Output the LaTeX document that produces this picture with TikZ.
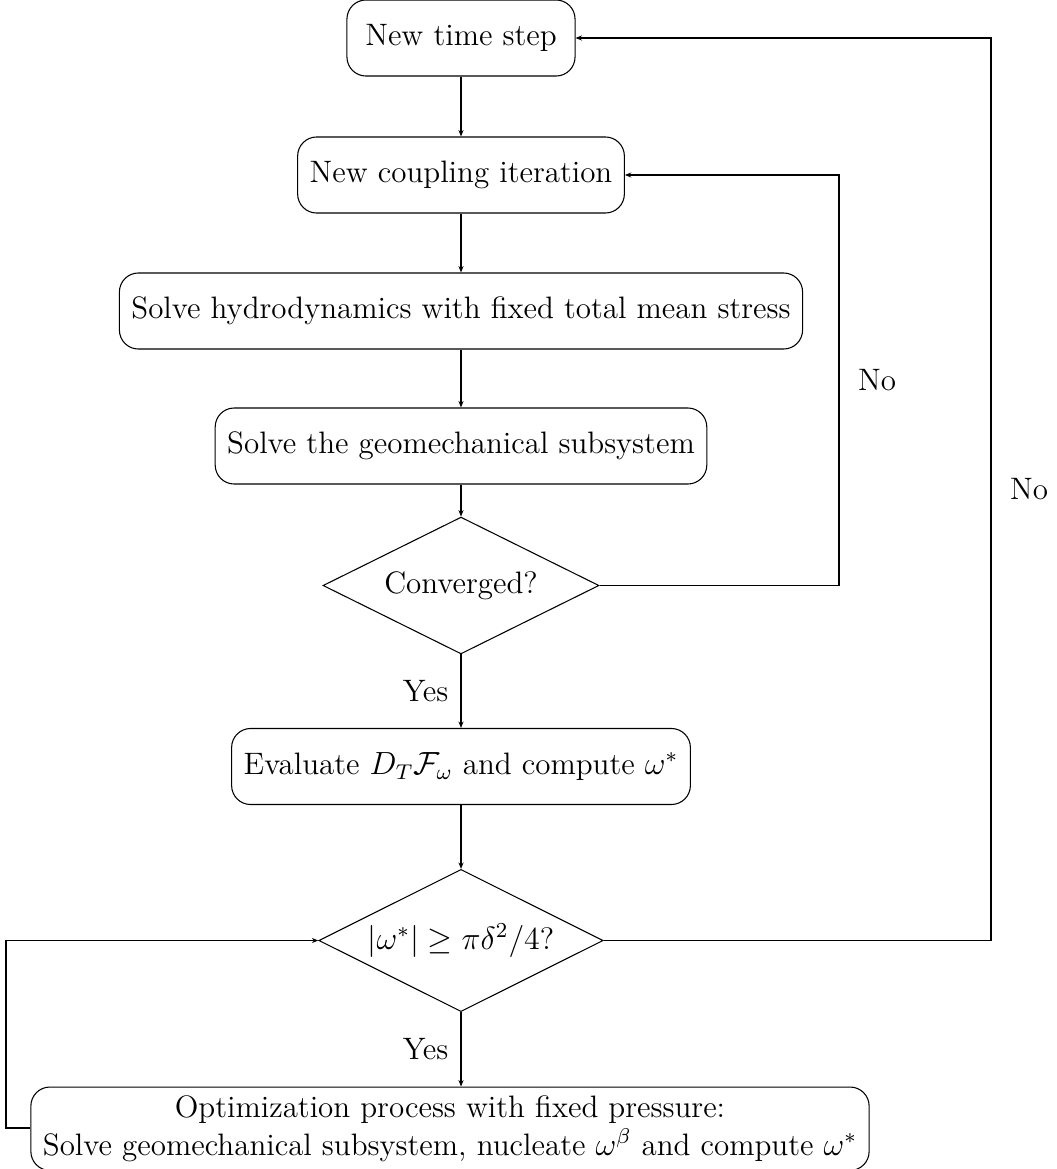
\documentclass[tikz,border=0pt]{standalone}
\usetikzlibrary{shapes.geometric,arrows.meta}
\begin{document}
\begin{tikzpicture}[x=0.01316cm,y=-0.01316cm,
  font=\fontsize{11.6}{14}\selectfont,
  box/.style={draw,rectangle,rounded corners=2.5mm,minimum height=1cm,minimum width=3cm,inner xsep=4.5pt,align=center},
  dec/.style={draw,diamond,aspect=2,inner sep=0pt},
  arr/.style={-{Stealth[length=2.4pt,width=1.9pt]}},
  ylab/.style={inner sep=4.5pt},
  nlab/.style={inner sep=7pt}]
\clip (0,0) rectangle (1056,1169);
\node[box] (n1) at (461,38) {New time step};
\node[box] (n2) at (461,175) {New coupling iteration};
\node[box] (n3) at (461,311) {Solve hydrodynamics with fixed total mean stress};
\node[box] (n4) at (461,446) {Solve the geomechanical subsystem};
\node[dec,minimum width=3.63cm,minimum height=1.80cm] (d1) at (461,585.5) {Converged?};
\node[box] (n5) at (461,766.5) {Evaluate $D_T\mathcal{F}_\omega$ and compute $\omega^*$};
\node[dec,minimum width=3.74cm,minimum height=1.87cm] (d2) at (461,940.5) {$|\omega^*|\geq\pi\delta^2/4$?};
\node[box,anchor=north] (n6) at (450,1086.5) {Optimization process with fixed pressure:\\Solve geomechanical subsystem, nucleate $\omega^\beta$ and compute $\omega^*$};
\coordinate (c1) at (839,585.5);
\coordinate (c2) at (839,175);
\coordinate (c3) at (991,940.5);
\coordinate (c4) at (991,38);
\coordinate (c5) at (6,1128);
\coordinate (c6) at (6,940.5);
\draw[arr] (n1) -- (n2);
\draw[arr] (n2) -- (n3);
\draw[arr] (n3) -- (n4);
\draw[arr] (n4) -- (d1);
\draw[arr] (d1) -- node[ylab,left]{Yes} (n5);
\draw[arr] (n5) -- (d2);
\draw[arr] (d2.south) -- node[ylab,left]{Yes} (d2.south |- n6.north);
\draw[arr] (d1.east) -- (c1) -- node[nlab,right]{No} (c2) -- (n2.east);
\draw[arr] (d2.east) -- (c3) -- node[nlab,right]{No} (c4) -- (n1.east);
\draw[arr] (n6.west |- c5) -- (c5) -- (c6) -- (d2.west);
\end{tikzpicture}
\end{document}
